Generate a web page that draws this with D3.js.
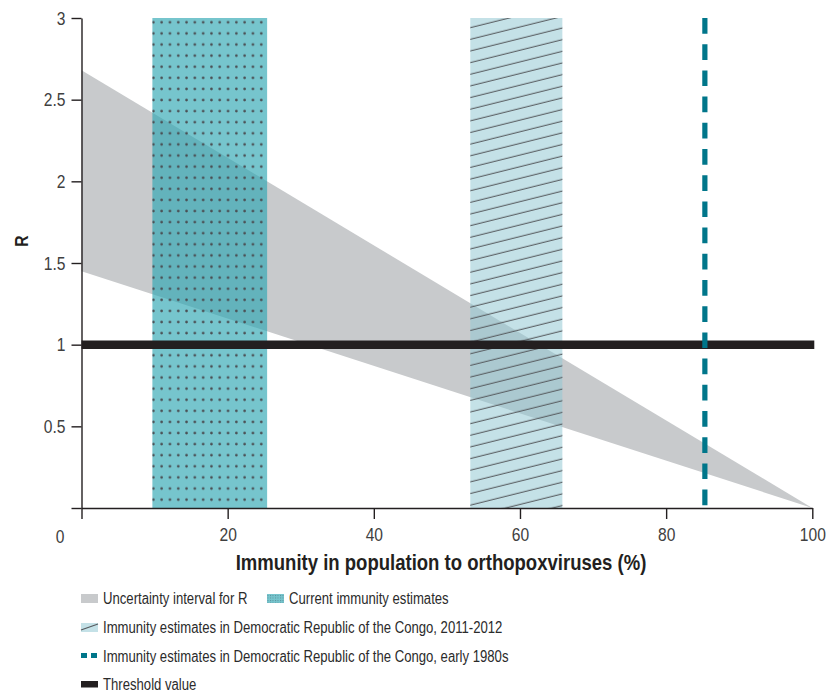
<!DOCTYPE html>
<html>
<head>
<meta charset="utf-8">
<script src="https://cdn.jsdelivr.net/npm/d3@7"></script>
<style>
  html, body { margin: 0; padding: 0; background: #fff; }
  svg { display: block; }
  text { font-family: "Liberation Sans Narrow", "Liberation Sans", Arial, sans-serif; }
</style>
</head>
<body>
<svg id="chart" width="833" height="695"></svg>
<script>
// ---- data ----
const immunityPct = [0, 100];
const rUpper = [2.68, 0];
const rLower = [1.45, 0];
const currentImmunity = [9.7, 25.4];
const drc20112012 = [53.2, 65.8];
const drcEarly1980s = 85.3;
const thresholdR = 1;
const xTicks = [0, 20, 40, 60, 80, 100];
const yTicks = [0, 0.5, 1, 1.5, 2, 2.5, 3];
const legendLabels = [
  "Uncertainty interval for R",
  "Current immunity estimates",
  "Immunity estimates in Democratic Republic of the Congo, 2011-2012",
  "Immunity estimates in Democratic Republic of the Congo, early 1980s",
  "Threshold value"
];
const xTitle = "Immunity in population to orthopoxviruses (%)";
const yTitle = "R";

// ---- layout ----
const svg = d3.select("#chart");
const x = d3.scaleLinear().domain([0, 100]).range([81.5, 812.3]);
const y = d3.scaleLinear().domain([0, 3]).range([508, 18]);

const axisColor = "#231f20";
const labelColor = "#404040";
const grayBand = "#c8cacc";
const tealBase = "#2fa7b3";
const hatchBase = "#94c8d3";
const dashColor = "#00768a";

const defs = svg.append("defs");
const dots = defs.append("pattern").attr("id", "dots")
  .attr("patternUnits", "userSpaceOnUse")
  .attr("x", 149.2).attr("y", 16.8)
  .attr("width", 8.3).attr("height", 11.1);
dots.append("circle").attr("cx", 4.15).attr("cy", 5.55).attr("r", 1.3).attr("fill", "#4a4d52");

const hatch = defs.append("pattern").attr("id", "hatch")
  .attr("patternUnits", "userSpaceOnUse")
  .attr("width", 40).attr("height", 11.3)
  .attr("patternTransform", "rotate(-14)");
hatch.append("line").attr("x1", 0).attr("x2", 40).attr("y1", 5).attr("y2", 5)
  .attr("stroke", "#55595d").attr("stroke-width", 1.1);

const dotsSmall = defs.append("pattern").attr("id", "dotsSmall")
  .attr("patternUnits", "userSpaceOnUse")
  .attr("width", 2.5).attr("height", 2.5);
dotsSmall.append("rect").attr("width", 1).attr("height", 1).attr("fill", "#5a8f98");

// ---- uncertainty band ----
const bandData = immunityPct.map((d, i) => ({ x: d, lo: rLower[i], hi: rUpper[i] }));
svg.append("path").datum(bandData)
  .attr("d", d3.area().x(d => x(d.x)).y0(d => y(d.lo)).y1(d => y(d.hi)))
  .attr("fill", grayBand);

// ---- current immunity (dotted teal) ----
svg.append("rect")
  .attr("x", x(currentImmunity[0])).attr("width", x(currentImmunity[1]) - x(currentImmunity[0]))
  .attr("y", y(3)).attr("height", y(0) - y(3))
  .attr("fill", tealBase).attr("fill-opacity", 0.66);
svg.append("rect")
  .attr("x", x(currentImmunity[0])).attr("width", x(currentImmunity[1]) - x(currentImmunity[0]))
  .attr("y", y(3)).attr("height", y(0) - y(3))
  .attr("fill", "url(#dots)");

// ---- DRC 2011-2012 (hatched) ----
svg.append("rect")
  .attr("x", x(drc20112012[0])).attr("width", x(drc20112012[1]) - x(drc20112012[0]))
  .attr("y", y(3)).attr("height", y(0) - y(3))
  .attr("fill", hatchBase).attr("fill-opacity", 0.55);
svg.append("rect")
  .attr("x", x(drc20112012[0])).attr("width", x(drc20112012[1]) - x(drc20112012[0]))
  .attr("y", y(3)).attr("height", y(0) - y(3))
  .attr("fill", "url(#hatch)").attr("opacity", 0.9);

// ---- threshold line ----
svg.append("line")
  .attr("x1", x(0)).attr("x2", x(100) + 2)
  .attr("y1", y(thresholdR)).attr("y2", y(thresholdR))
  .attr("stroke", axisColor).attr("stroke-width", 8.5);

// ---- early 1980s dashed ----
svg.append("line")
  .attr("x1", x(drcEarly1980s)).attr("x2", x(drcEarly1980s))
  .attr("y1", y(3)).attr("y2", y(0) - 1)
  .attr("stroke", dashColor).attr("stroke-width", 5.2)
  .attr("stroke-dasharray", "15.7,10.5");

// ---- axes ----
const yAxis = d3.axisLeft(y).tickValues(yTicks).tickSize(10).tickSizeOuter(0).tickPadding(6)
  .tickFormat(d => d === 0 ? "" : d3.format("")(d));
const gy = svg.append("g").attr("transform", `translate(${x(0)},0)`).call(yAxis);

const xAxis = d3.axisBottom(x).tickValues(xTicks).tickSize(11).tickSizeOuter(0).tickPadding(9)
  .tickFormat(d => d === 0 ? "" : d);
const gx = svg.append("g").attr("transform", `translate(0,${y(0)})`).call(xAxis);

[gx, gy].forEach(g => {
  g.select(".domain").attr("stroke", axisColor).attr("stroke-width", 1.4);
  g.selectAll(".tick line").attr("stroke", axisColor).attr("stroke-width", 1.4);
  g.selectAll(".tick text").attr("fill", labelColor)
    .style("font-family", "'Liberation Sans Narrow', 'Liberation Sans', sans-serif").style("font-size", "19px");
});
gx.selectAll(".tick text").attr("dy", "0.71em");

// shared origin label
svg.append("text").attr("x", 60).attr("y", 543).attr("text-anchor", "middle")
  .attr("fill", labelColor).style("font-size", "19px").text("0");

// axis titles
svg.append("text").attr("x", 441).attr("y", 570).attr("text-anchor", "middle")
  .attr("fill", "#231f20").style("font-size", "22.6px").style("font-weight", "bold")
  .text(xTitle);
svg.append("text").attr("transform", "translate(28,241) rotate(-90)").attr("text-anchor", "middle")
  .attr("fill", "#231f20").style("font-size", "19px").style("font-weight", "bold")
  .text(yTitle);

// ---- legend ----
const leg = svg.append("g");
const sw = 17, sh = 9;
function legText(tx, ty, s) {
  leg.append("text").attr("x", tx).attr("y", ty).attr("fill", "#2b2b2b")
    .style("font-size", "16px").text(s);
}
// row 1
leg.append("rect").attr("x", 81).attr("y", 594).attr("width", sw).attr("height", sh).attr("fill", grayBand);
legText(103, 604, legendLabels[0]);
leg.append("rect").attr("x", 267).attr("y", 594).attr("width", sw).attr("height", sh).attr("fill", "#76c5cd");
leg.append("rect").attr("x", 267).attr("y", 594).attr("width", sw).attr("height", sh).attr("fill", "url(#dotsSmall)");
legText(289, 604, legendLabels[1]);
// row 2
leg.append("rect").attr("x", 81).attr("y", 623).attr("width", sw).attr("height", sh).attr("fill", "#c4e1e7");
leg.append("line").attr("x1", 81).attr("x2", 98).attr("y1", 630).attr("y2", 624)
  .attr("stroke", "#55595d").attr("stroke-width", 1.1);
legText(103, 633, legendLabels[2]);
// row 3
leg.append("rect").attr("x", 81).attr("y", 653).attr("width", 6).attr("height", 5).attr("fill", dashColor);
leg.append("rect").attr("x", 91).attr("y", 653).attr("width", 6).attr("height", 5).attr("fill", dashColor);
legText(103, 662, legendLabels[3]);
// row 4
leg.append("rect").attr("x", 81).attr("y", 681).attr("width", sw).attr("height", 6.5).attr("fill", axisColor);
legText(103, 690, legendLabels[4]);

// condense all text horizontally (the original uses a condensed typeface)
svg.selectAll("text").each(function () {
  const w = this.getComputedTextLength();
  if (w > 0) d3.select(this).attr("textLength", w * 0.82).attr("lengthAdjust", "spacingAndGlyphs");
});
</script>
</body>
</html>
